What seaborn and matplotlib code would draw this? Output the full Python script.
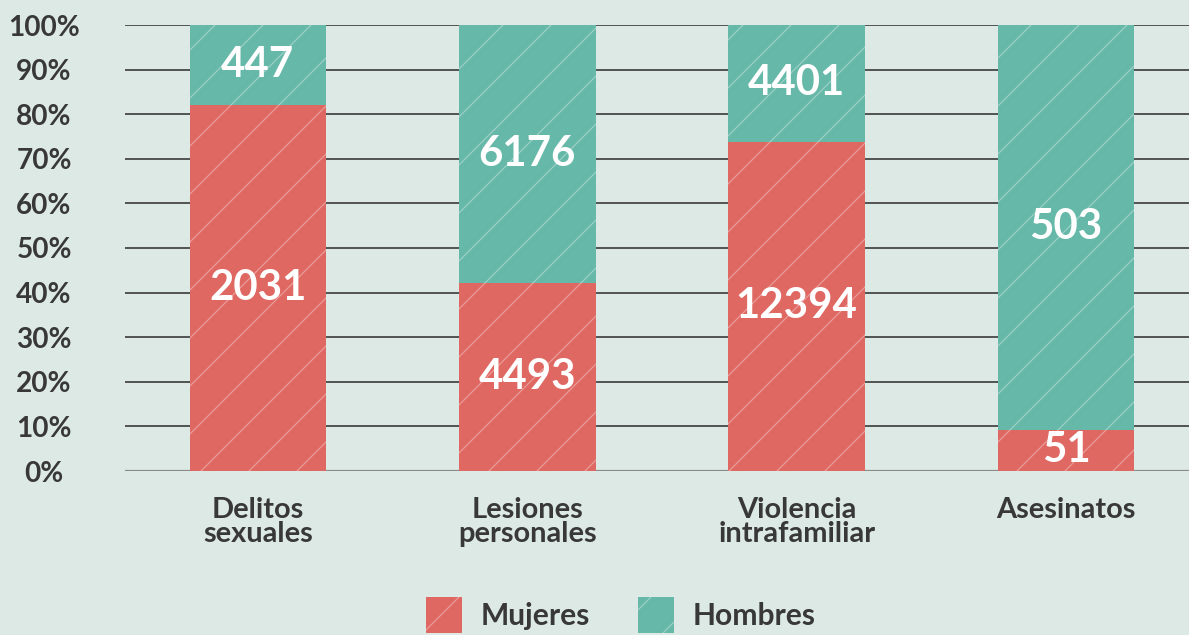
import matplotlib
matplotlib.use("Agg")
import matplotlib.pyplot as plt
import seaborn as sns
import pandas as pd
from matplotlib.patches import Patch

# datos
categorias = ["Delitos\nsexuales", "Lesiones\npersonales", "Violencia\nintrafamiliar", "Asesinatos"]
mujeres = [2031, 4493, 12394, 51]
hombres = [447, 6176, 4401, 503]
ticks_y = [0, 10, 20, 30, 40, 50, 60, 70, 80, 90, 100]

rojo = "#e06862"
verde = "#66b8a8"
fondo = "#dde9e4"
texto = "#383838"

sns.set_theme(style="white")
plt.rcParams["font.family"] = ["Lato", "DejaVu Sans"]
plt.rcParams["font.weight"] = "bold"
plt.rcParams["hatch.linewidth"] = 0.6

df = pd.DataFrame({"cat": categorias, "mujeres": mujeres, "hombres": hombres})
df["total"] = df["mujeres"] + df["hombres"]
df["pct_m"] = df["mujeres"] / df["total"] * 100
df["pct_total"] = 100.0

DPI = 144
fig = plt.figure(figsize=(1189 / DPI, 635 / DPI), dpi=DPI, facecolor=fondo)
ax = fig.add_axes([125 / 1189, 1 - 471 / 635, 1 - 125 / 1189, (471 - 25) / 635])
ax.set_facecolor(fondo)

# lineas de referencia
for v in ticks_y[1:]:
    ax.axhline(v, color="#333333", lw=0.8, zorder=0)
ax.axhline(0, color="#8a8a8a", lw=1.6, zorder=0)

# barras apiladas: total (hombres) y encima mujeres
sns.barplot(data=df, x="cat", y="pct_total", color=verde, saturation=1, width=0.507, ax=ax, zorder=2)
sns.barplot(data=df, x="cat", y="pct_m", color=rojo, saturation=1, width=0.507, ax=ax, zorder=3)
for p in ax.patches:
    p.set_hatch("/")
    p.set_edgecolor((1, 1, 1, 0.35))
    p.set_linewidth(0)

# etiquetas de valores
for i, row in df.iterrows():
    ax.text(i, row["pct_m"] / 2, str(row["mujeres"]), ha="center", va="center",
            color="white", fontsize=21, fontweight="bold", zorder=5)
    ax.text(i, (row["pct_m"] + 100) / 2, str(row["hombres"]), ha="center", va="center",
            color="white", fontsize=21, fontweight="bold", zorder=5)

ax.set_xlim(-0.493, 3.456)
ax.set_ylim(0, 100)
ax.set_yticks(ticks_y)
ax.set_yticklabels([f"{v}%" for v in ticks_y], fontsize=14, fontweight="bold", color=texto, ha="center")
ax.tick_params(axis="y", length=0, pad=40.5)
ax.tick_params(axis="x", length=0, pad=13)
for lab in ax.get_xticklabels():
    lab.set_fontsize(14.5)
    lab.set_fontweight("bold")
    lab.set_color(texto)
    lab.set_linespacing(0.92)
ax.set_xlabel("")
ax.set_ylabel("")
sns.despine(ax=ax, left=True, bottom=True)

# leyenda
handles = [Patch(facecolor=rojo, edgecolor=(1, 1, 1, 0.35), hatch="/", lw=0, label="Mujeres"),
           Patch(facecolor=verde, edgecolor=(1, 1, 1, 0.35), hatch="/", lw=0, label="Hombres")]
leg = fig.legend(handles=handles, loc="upper center", bbox_to_anchor=(0.522, 1 - 597 / 635), ncol=2,
                 frameon=False, borderpad=0, borderaxespad=0, handlelength=1.2, handleheight=1.45,
                 handletextpad=0.63, columnspacing=1.6, prop={"size": 15, "weight": "bold"})
for t in leg.get_texts():
    t.set_color(texto)

fig.savefig("out.png", dpi=DPI, facecolor=fondo)
